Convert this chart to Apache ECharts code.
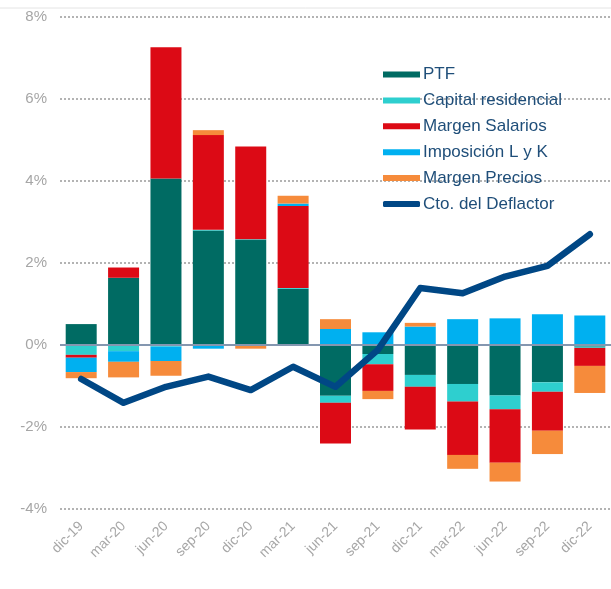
<!DOCTYPE html>
<html>
<head>
<meta charset="utf-8">
<script src="https://cdn.jsdelivr.net/npm/echarts@6/dist/echarts.min.js"></script>
<style>
html, body { margin: 0; padding: 0; background: #fff; }
#chart { width: 611px; height: 589px; }
</style>
</head>
<body>
<div id="chart"></div>
<script>
var categories = ['dic-19', 'mar-20', 'jun-20', 'sep-20', 'dic-20', 'mar-21', 'jun-21', 'sep-21', 'dic-21', 'mar-22', 'jun-22', 'sep-22', 'dic-22'];
var ptf = [0.51, 1.64, 4.06, 2.79, 2.56, 1.37, -1.24, -0.22, -0.73, -0.95, -1.23, -0.91, -0.04];
var capital = [-0.24, -0.15, -0.04, 0.02, 0.02, 0.02, -0.17, -0.25, -0.29, -0.43, -0.34, -0.23, -0.03];
var salarios = [-0.07, 0.25, 3.2, 2.31, 2.26, 2.0, -0.99, -0.65, -1.04, -1.3, -1.3, -0.95, -0.44];
var imposicion = [-0.35, -0.26, -0.35, -0.09, 0, 0.06, 0.39, 0.31, 0.45, 0.63, 0.65, 0.75, 0.72];
var precios = [-0.15, -0.38, -0.36, 0.12, -0.09, 0.19, 0.24, -0.2, 0.09, -0.34, -0.46, -0.57, -0.66];
var deflactor = [-0.83, -1.41, -1.02, -0.77, -1.1, -0.53, -1.02, -0.12, 1.39, 1.26, 1.67, 1.93, 2.7];
var yTicks = [-4, -2, 0, 2, 4, 6, 8];

var chart = echarts.init(document.getElementById('chart'));

function barSeries(name, data, color) {
  return {
    name: name,
    type: 'bar',
    stack: 'total',
    barWidth: 31,
    itemStyle: { color: color },
    data: data
  };
}

var option = {
  animation: false,
  grid: { left: 60, right: 0, top: 17, bottom: 80 },
  graphic: [{
    type: 'line',
    shape: { x1: 0, y1: 8, x2: 611, y2: 8 },
    style: { stroke: '#e4e4e4', lineWidth: 1 }
  }],
  legend: {
    orient: 'vertical',
    left: 383,
    top: 66,
    padding: 0,
    itemWidth: 37,
    itemHeight: 6,
    itemGap: 8.9,
    textStyle: { color: '#1f4e79', fontSize: 17, fontFamily: 'Liberation Sans', padding: [0, 0, 0, -2] },
    data: [
      { name: 'PTF', icon: 'rect' },
      { name: 'Capital residencial', icon: 'rect' },
      { name: 'Margen Salarios', icon: 'rect' },
      { name: 'Imposición L y K', icon: 'rect' },
      { name: 'Margen Precios', icon: 'rect' },
      { name: 'Cto. del Deflactor', icon: 'roundRect' }
    ]
  },
  xAxis: {
    type: 'category',
    data: categories,
    axisLine: { show: false },
    axisTick: { show: false },
    axisLabel: {
      rotate: 45,
      color: '#a6a6a6',
      fontSize: 14,
      fontFamily: 'Liberation Sans',
      margin: 15,
      interval: 0
    }
  },
  yAxis: {
    type: 'value',
    min: yTicks[0],
    max: yTicks[yTicks.length - 1],
    interval: 2,
    axisLine: { show: false },
    axisTick: { show: false },
    axisLabel: {
      formatter: '{value}%',
      color: '#a6a6a6',
      fontSize: 15,
      fontFamily: 'Liberation Sans',
      margin: 13
    },
    splitLine: {
      lineStyle: { color: '#9a9a9a', type: [2, 2], width: 1.5 }
    }
  },
  series: [
    barSeries('PTF', ptf, '#006b63'),
    barSeries('Capital residencial', capital, '#2ecfcf'),
    barSeries('Margen Salarios', salarios, '#dc0a15'),
    barSeries('Imposición L y K', imposicion, '#00b0f0'),
    barSeries('Margen Precios', precios, '#f68b3b'),
    {
      name: 'Cto. del Deflactor',
      type: 'line',
      data: deflactor,
      symbol: 'none',
      z: 5,
      itemStyle: { color: '#004785' },
      lineStyle: { color: '#004785', width: 6.5, cap: 'round', join: 'round' },
      markLine: {
        silent: true,
        symbol: 'none',
        label: { show: false },
        lineStyle: { color: '#8497b0', type: 'solid', width: 2 },
        data: [{ yAxis: 0 }]
      }
    }
  ]
};

chart.setOption(option);
</script>
</body>
</html>
